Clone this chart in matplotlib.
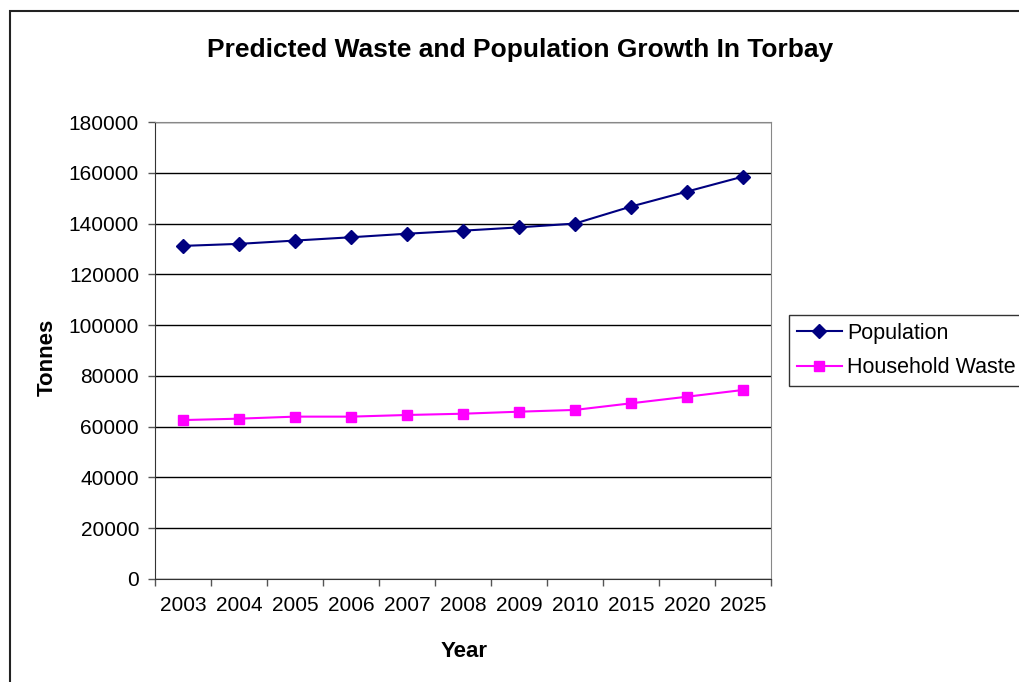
import matplotlib.pyplot as plt
from matplotlib.patches import Rectangle

plt.rcParams['font.family'] = ['Liberation Sans', 'DejaVu Sans']

years = ['2003', '2004', '2005', '2006', '2007', '2008', '2009', '2010', '2015', '2020', '2025']
population = [131200, 132000, 133300, 134600, 136000, 137200, 138500, 140000, 146700, 152600, 158500]
household_waste = [62600, 63150, 63950, 63950, 64600, 65100, 65900, 66600, 69200, 71800, 74450]

W, H = 1019, 682
fig = plt.figure(figsize=(W / 100, H / 100), dpi=100)
ax = fig.add_axes([155 / W, 103 / H, 616 / W, 457 / H])

x = list(range(len(years)))
ax.plot(x, population, color='#000080', marker='D', markersize=7, linewidth=1.5, label='Population')
ax.plot(x, household_waste, color='#FF00FF', marker='s', markersize=7, linewidth=1.5, label='Household Waste')

ax.set_xlim(-0.5, len(years) - 0.5)
ax.set_ylim(0, 180000)
ax.set_yticks(range(0, 180001, 20000))
ax.yaxis.grid(True, color='black', linewidth=1)
ax.set_axisbelow(True)

# ticks between categories, labels in the middle
ax.set_xticks([i - 0.5 for i in range(len(years) + 1)])
ax.set_xticklabels([])
ax.set_xticks(x, minor=True)
ax.set_xticklabels(years, minor=True)
ax.tick_params(axis='x', which='major', direction='out', length=5, width=1, color='#555555')
ax.tick_params(axis='x', which='minor', length=0, pad=12, labelsize=15)
ax.tick_params(axis='y', direction='out', length=5, width=1, pad=6.5, labelsize=15, color='#555555')

for s in ['top', 'right']:
    ax.spines[s].set_color('#888888')
for s in ['left', 'bottom']:
    ax.spines[s].set_color('#333333')

# titles placed in pixel positions
fig.text(520 / W, 1 - 57 / H, 'Predicted Waste and Population Growth In Torbay',
         ha='center', va='baseline', fontsize=19, fontweight='bold')
fig.text(464 / W, 1 - 657 / H, 'Year', ha='center', va='baseline', fontsize=16, fontweight='bold')
fig.text(53 / W, 1 - 357 / H, 'Tonnes', ha='center', va='baseline', rotation=90,
         rotation_mode='anchor', fontsize=16, fontweight='bold')

leg = fig.legend(loc='upper left', bbox_to_anchor=(789 / W, 1 - 315 / H),
                 bbox_transform=fig.transFigure, fontsize=15.5, frameon=True,
                 fancybox=False, edgecolor='black', borderaxespad=0, handlelength=2.1,
                 handletextpad=0.25, labelspacing=0.62, borderpad=0.36)
leg.get_frame().set_linewidth(1)

fig.add_artist(Rectangle((10 / W, -0.5), 2, 0.5 + 1 - 11 / H, transform=fig.transFigure,
                         fill=False, edgecolor='#222222', linewidth=1.5))

fig.savefig('out.png', dpi=100)
